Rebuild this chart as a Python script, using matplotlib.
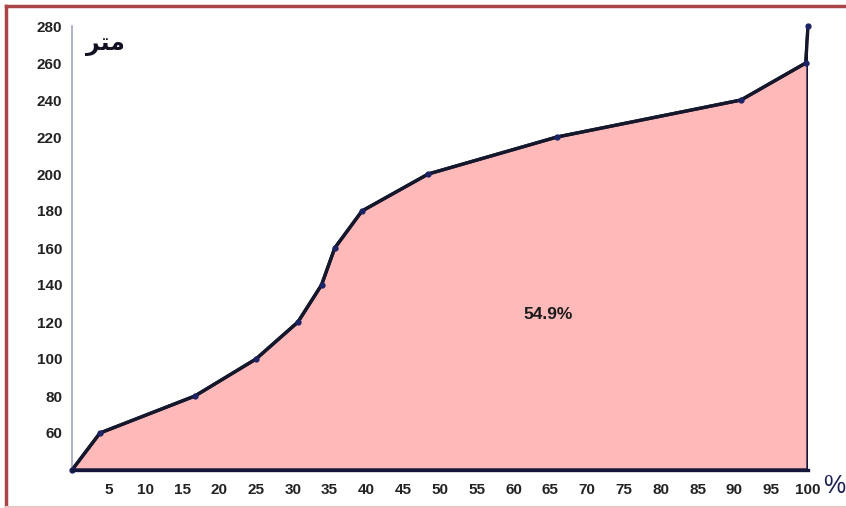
import matplotlib
matplotlib.use("Agg")
import matplotlib.pyplot as plt
from matplotlib.lines import Line2D

# cumulative percent of area vs. height (m)
pct = [0, 3.8, 16.7, 25.0, 30.7, 33.9, 35.7, 39.4, 48.4, 65.9, 90.9, 99.7, 100]
height = [40, 60, 80, 100, 120, 140, 160, 180, 200, 220, 240, 260, 280]

xticks = list(range(5, 101, 5))
yticks = list(range(60, 281, 20))
area_label = "54.9%"
# "متر" written in shaped presentation forms, visual order (matplotlib has no shaping)
unit_label = "\uFEAE\uFE98\uFEE3"

W, H = 846, 508
fig = plt.figure(figsize=(W / 100, H / 100), dpi=100)
ax = fig.add_axes([72 / W, 1 - 470 / H, 736 / W, 444 / H])

fill_x = pct + [100, 0]
fill_y = height + [40, 40]
ax.fill(fill_x, fill_y, facecolor="#ffb9b9", edgecolor="#14163a", linewidth=2.4, zorder=2)
ax.plot(pct, height, color="#15172a", linewidth=2.4, marker="o", markersize=3.5,
        markerfacecolor="#1c2466", markeredgecolor="#1c2466", zorder=3, clip_on=False)

ax.set_xlim(0, 100)
ax.set_ylim(40, 280)
ax.set_xticks(xticks)
ax.set_yticks(yticks)
ax.tick_params(length=0, labelsize=11, colors="#222222")
ax.tick_params(axis="x", pad=9)
ax.tick_params(axis="y", pad=7)
for lab in ax.get_xticklabels() + ax.get_yticklabels():
    lab.set_fontweight("bold")
    lab.set_family("Liberation Sans")

for s in ["top", "right"]:
    ax.spines[s].set_visible(False)
ax.spines["left"].set_color("#a0a6bc")
ax.spines["left"].set_linewidth(1.2)
ax.spines["bottom"].set_color("#14163a")
ax.spines["bottom"].set_linewidth(2.4)
ax.spines["bottom"].set_zorder(4)

ax.text(64.7, 124, area_label, ha="center", va="center", fontsize=12.5,
        fontweight="bold", family="Liberation Sans", color="#1a1a1a", zorder=5)

fig.text(105 / W, 1 - 44 / H, unit_label, ha="center", va="center", fontsize=17,
         fontweight="bold", family="DejaVu Sans", color="#111122")
fig.text(834 / W, 1 - 486 / H, "%", ha="center", va="center", fontsize=18,
         family="Liberation Sans", color="#1a1f50")

# outer frame of the picture
fig.add_artist(Line2D([5.5 / W, 5.5 / W], [0, 1 - 5.5 / H], color="#a84646",
                      linewidth=2.5, transform=fig.transFigure))
fig.add_artist(Line2D([5.5 / W, 1], [1 - 5.5 / H, 1 - 5.5 / H], color="#a84646",
                      linewidth=2.5, transform=fig.transFigure))
fig.add_artist(Line2D([5.5 / W, 1], [1.5 / H, 1.5 / H], color="#e8c4c4",
                      linewidth=1.5, transform=fig.transFigure))

fig.savefig("out.png", dpi=100)
